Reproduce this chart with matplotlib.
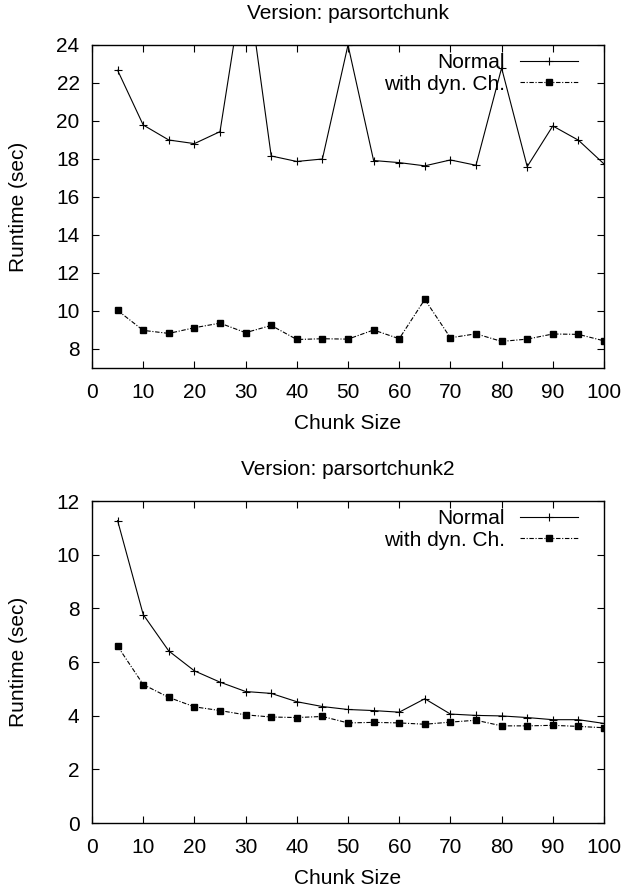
import numpy as np
import matplotlib
matplotlib.use("Agg")
import matplotlib.pyplot as plt

plt.rcParams['font.family'] = ['Liberation Sans', 'DejaVu Sans']
plt.rcParams['font.size'] = 15

chunk = [5, 10, 15, 20, 25, 30, 35, 40, 45, 50, 55, 60, 65, 70, 75, 80, 85, 90, 95, 100]

# Version: parsortchunk
v1_normal = [22.67, 19.79, 19.0, 18.81, 19.44, 28.0, 18.16, 17.87, 18.0, 24.0,
             17.92, 17.81, 17.64, 17.95, 17.67, 22.79, 17.6, 19.74, 18.99, 17.74]
v1_dyn = [10.03, 8.98, 8.82, 9.12, 9.36, 8.86, 9.24, 8.5, 8.54, 8.52,
          9.0, 8.54, 10.61, 8.59, 8.8, 8.4, 8.52, 8.79, 8.77, 8.43]

# Version: parsortchunk2
v2_normal = [11.27, 7.77, 6.41, 5.67, 5.25, 4.90, 4.83, 4.52, 4.34, 4.23,
             4.19, 4.13, 4.63, 4.06, 4.01, 3.99, 3.93, 3.85, 3.85, 3.71]
v2_dyn = [6.59, 5.16, 4.68, 4.33, 4.19, 4.03, 3.95, 3.93, 3.97, 3.73,
          3.75, 3.73, 3.68, 3.76, 3.83, 3.62, 3.62, 3.64, 3.60, 3.55]

fig = plt.figure(figsize=(6.26, 8.88), dpi=100)
ax1 = fig.add_axes([92/626, 1 - 368/888, (604 - 92)/626, (368 - 45)/888])
ax2 = fig.add_axes([92/626, 1 - 823/888, (604 - 92)/626, (823 - 501)/888])

def panel(ax, title, normal, dyn, ylim, yticks):
    ax.plot(chunk, normal, '-', color='black', lw=0.8, marker='+', ms=6, mew=0.8,
            label='Normal')
    ax.plot(chunk, dyn, color='black', lw=0.8, ls=(0, (4, 1.5, 1, 1.5)), marker='s',
            ms=4, label='with dyn. Ch.')
    ax.set_xlim(0, 100)
    ax.set_ylim(*ylim)
    ax.set_xticks(range(0, 101, 10))
    ax.set_yticks(yticks)
    ax.tick_params(direction='in', top=True, right=True, length=5, width=0.8)
    ax.tick_params(axis='y', pad=9)
    ax.tick_params(axis='x', pad=11)
    for s in ax.spines.values():
        s.set_linewidth(1.0)
    ax.set_title(title, pad=19, fontsize=15)
    ax.set_xlabel('Chunk Size', labelpad=8.5)
    ax.set_ylabel('Runtime (sec)', labelpad=20)
    ax.legend(loc='upper right', bbox_to_anchor=(0.949, 0.975), frameon=False,
              markerfirst=False, borderpad=0, borderaxespad=0, labelspacing=0.12,
              handlelength=2.8, handletextpad=0.7, fontsize=15)

panel(ax1, 'Version: parsortchunk', v1_normal, v1_dyn, (7, 24), range(8, 25, 2))
panel(ax2, 'Version: parsortchunk2', v2_normal, v2_dyn, (0, 12), range(0, 13, 2))

fig.savefig('out.png', dpi=100)
